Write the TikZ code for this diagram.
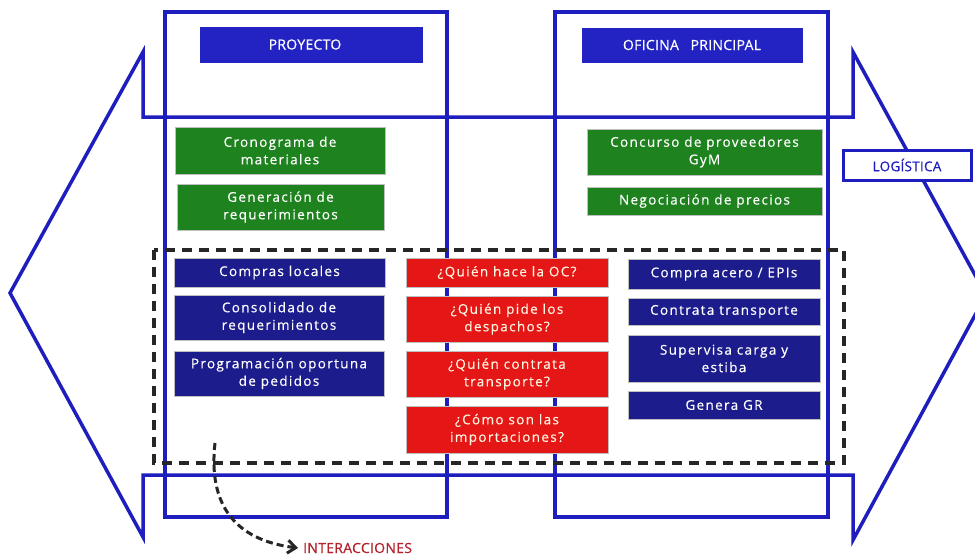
\documentclass[tikz,border=0pt]{standalone}
\usepackage{fontspec}
\setmainfont{Open Sans}[LetterSpace=10, FakeBold=0.4]
\newfontfamily\hdrfont{Open Sans}[LetterSpace=2, FakeBold=0.5]
\usetikzlibrary{arrows.meta}
\definecolor{arrblue}{RGB}{30,30,190}
\definecolor{hdrblue}{RGB}{35,35,195}
\definecolor{navy}{RGB}{28,28,140}
\definecolor{gyellow}{RGB}{30,130,30}
\definecolor{rred}{RGB}{228,22,22}
\definecolor{txtred}{RGB}{180,35,45}
\definecolor{cream}{RGB}{255,245,225}
\tikzset{
  bigline/.style={draw=arrblue, line width=3.5pt, line join=miter},
  colline/.style={draw=arrblue, line width=3.5pt},
  basebox/.style={draw=black!25, line width=0.8pt, align=center, text=white, inner sep=1pt,
     font=\fontsize{13.5}{17.5}\selectfont},
  hdrbox/.style={basebox, fill=hdrblue, draw=hdrblue, font=\hdrfont\fontsize{14}{16}\selectfont},
  greenbox/.style={basebox, fill=gyellow},
  navybox/.style={basebox, fill=navy},
  redbox/.style={basebox, fill=rred, text=cream},
  logbox/.style={draw=arrblue, line width=3pt, fill=white, text=arrblue, font=\hdrfont\fontsize{13.5}{15}\selectfont},
  dashbox/.style={draw=black!85, line width=3.2pt, dash pattern=on 10pt off 7pt},
  dasharrow/.style={draw=black!85, line width=3pt, dash pattern=on 7pt off 4pt,
     -{Straight Barb[length=8pt,width=13pt,line width=3pt]}},
}
\begin{document}
\begin{tikzpicture}[x=1pt,y=-1pt]
\useasboundingbox (0,0) rectangle (975,558);
\clip (0,0) rectangle (975,558);
\fill[white] (0,0) rectangle (975,558);
% big double arrow
\draw[bigline] (10,293) -- (143,52) -- (143,117) -- (853,117) -- (853,52) -- (986,295)
  -- (853,540) -- (853,475) -- (143,475) -- (143,537) -- cycle;
% columns
\draw[colline] (165,12) rectangle (447,517);
\draw[colline] (555,12) rectangle (828,517);
% dashed region
\draw[dashbox] (154,250) rectangle (844,463);
% headers
\node[hdrbox, minimum width=222pt, minimum height=35pt] (proy) at (311,44.5) {\hspace*{-12pt}PROYECTO};
\node[hdrbox, minimum width=220pt, minimum height=34pt] (ofi) at (692,45) {OFICINA\ \ \ PRINCIPAL};
\node[logbox, minimum width=128pt, minimum height=30pt] (log) at (907,165) {LOGÍSTICA};
% green
\node[greenbox, minimum width=210pt, minimum height=47pt] (crono) at (280,150.5) {Cronograma de\\materiales};
\node[greenbox, minimum width=207pt, minimum height=46pt] (gen) at (280.5,207) {Generación de\\requerimientos};
\node[greenbox, minimum width=235pt, minimum height=46pt] (conc) at (704.5,152) {Concurso de proveedores\\GyM};
\node[greenbox, minimum width=235pt, minimum height=28pt] (nego) at (704.5,201) {Negociación de precios};
% left navy
\node[navybox, minimum width=211pt, minimum height=29pt] (comp) at (279.5,272.5) {Compras locales};
\node[navybox, minimum width=210pt, minimum height=45pt] (cons) at (279,317.5) {Consolidado de\\requerimientos};
\node[navybox, minimum width=210pt, minimum height=45pt] (prog) at (279,373.5) {Programación oportuna\\de pedidos};
% red
\node[redbox, minimum width=202pt, minimum height=29pt] (oc) at (507,272.5) {¿Quién hace la OC?};
\node[redbox, minimum width=202pt, minimum height=46pt] (pide) at (507,319) {¿Quién pide los\\despachos?};
\node[redbox, minimum width=202pt, minimum height=46pt] (contr) at (507,374) {¿Quién contrata\\transporte?};
\node[redbox, minimum width=202pt, minimum height=47pt] (impo) at (507,429.5) {¿Cómo son las\\importaciones?};
% right navy
\node[navybox, minimum width=192pt, minimum height=30pt] (acero) at (724,274) {Compra acero / EPIs};
\node[navybox, minimum width=192pt, minimum height=27pt] (transp) at (724,311.5) {Contrata transporte};
\node[navybox, minimum width=192pt, minimum height=47pt] (superv) at (724,358.5) {Supervisa carga y\\estiba};
\node[navybox, minimum width=192pt, minimum height=28pt] (gr) at (724,405) {Genera GR};
% interacciones
\node[text=txtred, font=\hdrfont\fontsize{14}{16}\selectfont, anchor=west, inner sep=0pt] (inter) at (303,548) {INTERACCIONES};
\coordinate (istart) at (215,443);
\draw[dasharrow] (istart) .. controls (208,505) and (235,540) .. ([xshift=-5pt]inter.west);
\end{tikzpicture}
\end{document}
